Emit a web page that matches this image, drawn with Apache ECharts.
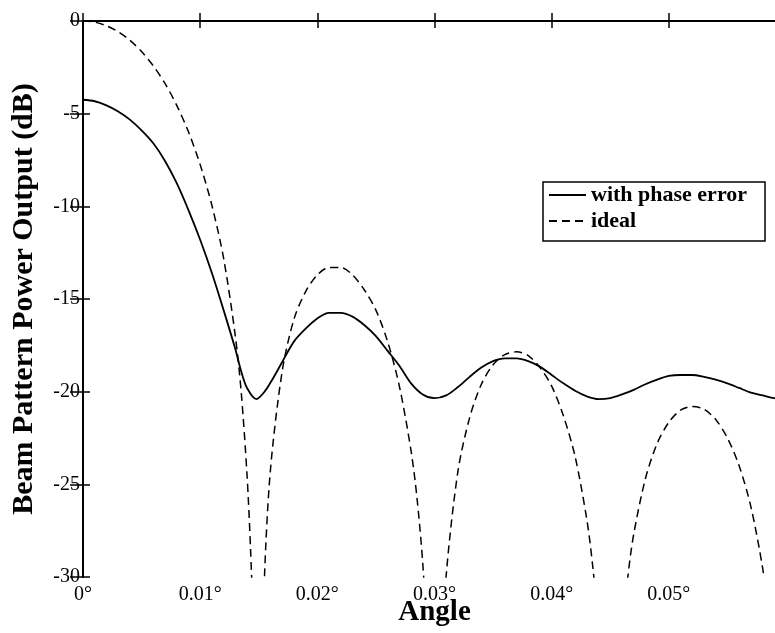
<!DOCTYPE html>
<html>
<head>
<meta charset="utf-8">
<script src="https://cdn.jsdelivr.net/npm/echarts@6/dist/echarts.min.js"></script>
<style>
  html, body { margin: 0; padding: 0; background: #fff; }
  #beamchart { width: 775px; height: 633px; }
</style>
</head>
<body>
<div id="beamchart"></div>
<script>
// values (angle in degrees, power in dB)
let errorAngle = [0, 0.001, 0.002, 0.003, 0.004, 0.005, 0.006, 0.007, 0.008, 0.009, 0.010,
  0.011, 0.012, 0.013, 0.0135, 0.014, 0.0148, 0.0155, 0.0162, 0.017, 0.018, 0.019, 0.020,
  0.021, 0.022, 0.023, 0.024, 0.025, 0.026, 0.027, 0.028, 0.029, 0.030, 0.031, 0.032,
  0.033, 0.034, 0.035, 0.036, 0.037, 0.038, 0.039, 0.040, 0.041, 0.042, 0.043, 0.044,
  0.045, 0.046, 0.047, 0.048, 0.049, 0.050, 0.051, 0.052, 0.053, 0.054, 0.055, 0.056,
  0.057, 0.058, 0.059, 0.060];
let errorDb = [-4.25, -4.33, -4.55, -4.88, -5.32, -5.9, -6.6, -7.55, -8.75, -10.2, -11.8,
  -13.6, -15.6, -17.7, -18.9, -19.8, -20.4, -20.0, -19.3, -18.4, -17.3, -16.6, -16.05,
  -15.75, -15.75, -15.95, -16.4, -17.0, -17.8, -18.6, -19.55, -20.15, -20.35, -20.2, -19.75,
  -19.2, -18.7, -18.35, -18.2, -18.2, -18.35, -18.65, -19.1, -19.55, -19.95, -20.25, -20.4,
  -20.35, -20.15, -19.9, -19.6, -19.35, -19.15, -19.1, -19.1, -19.2, -19.35, -19.55, -19.8,
  -20.05, -20.2, -20.35, -20.45];

let idealAngle = [0, 0.001, 0.002, 0.003, 0.004, 0.005, 0.006, 0.007, 0.008, 0.009, 0.010,
  0.011, 0.012, 0.013, 0.0135, 0.014, 0.0143, 0.0146, 0.0149, 0.0152, 0.0155, 0.016,
  0.017, 0.018, 0.019, 0.020, 0.021, 0.022, 0.023, 0.024, 0.025, 0.026, 0.027, 0.028,
  0.0285, 0.029, 0.0295, 0.030, 0.0305, 0.031, 0.032, 0.033, 0.034, 0.035, 0.036, 0.037,
  0.038, 0.039, 0.040, 0.041, 0.042, 0.043, 0.0435, 0.044, 0.045, 0.0455, 0.046, 0.0465,
  0.047, 0.048, 0.049, 0.050, 0.051, 0.052, 0.053, 0.054, 0.055, 0.056, 0.057, 0.058,
  0.0585, 0.059, 0.060];
let idealDb = [0, -0.06, -0.26, -0.58, -1.04, -1.65, -2.42, -3.37, -4.55, -5.98, -7.75,
  -9.95, -12.8, -17.0, -20.0, -24.5, -28.5, -34, -45, -37, -29.8, -24.2,
  -18.9, -16.1, -14.6, -13.7, -13.3, -13.3, -13.7, -14.5, -15.6, -17.3, -19.7, -23.2,
  -25.7, -29.3, -35, -50, -35.7, -29.9, -24.3, -21.4, -19.6, -18.55, -18.0, -17.85,
  -18.05, -18.7, -19.7, -21.3, -23.5, -26.9, -29.4, -32.9, -50, -39, -33.3, -30.0,
  -27.7, -24.7, -22.8, -21.65, -21.0, -20.8, -20.95, -21.5, -22.5, -24.0, -26.2, -29.5,
  -32, -36, -50];

let seriesNames = ["with phase error", "ideal"];
let yTicks = { min: -30, max: 0, step: 5 };
let xTicks = { min: 0, max: 0.06, step: 0.01 };

let serif = '"Liberation Serif", "Times New Roman", serif';

let pairs = function (xs, ys) {
  let out = [];
  for (let i = 0; i < xs.length; i++) {
    out.push([xs[i], ys[i]]);
  }
  return out;
};

let degLabel = function (v) {
  if (v >= xTicks.max - 1e-9) return "";
  if (v === 0) return "0°";
  return +v.toFixed(2) + "°";
};

var myChart = echarts.init(document.getElementById("beamchart"), null, { renderer: "canvas" });

var option = {
  backgroundColor: "#fff",
  animation: false,
  grid: { left: 83, top: 21, bottom: 56, right: -11, outerBoundsMode: "none", containLabel: false },
  legend: {
    orient: "vertical",
    left: 543,
    top: 182,
    padding: [2, 18, 9, 5],
    itemGap: 4,
    itemWidth: 37,
    itemHeight: 24,
    borderColor: "#000",
    borderWidth: 1.5,
    backgroundColor: "#fff",
    itemStyle: { opacity: 0 },
    textStyle: { fontFamily: serif, fontWeight: "bold", fontSize: 22, color: "#000" },
    data: seriesNames,
  },
  xAxis: [
    {
      type: "value",
      min: xTicks.min,
      max: xTicks.max,
      interval: xTicks.step,
      name: "Angle",
      nameLocation: "middle",
      nameGap: 21,
      nameMoveOverlap: false,
      nameTextStyle: { fontFamily: serif, fontWeight: "bold", fontSize: 29, color: "#000" },
      axisLine: { lineStyle: { color: "#000", width: 2 } },
      axisTick: { inside: true, length: 8, lineStyle: { color: "#000", width: 1.5 } },
      axisLabel: { margin: 8, fontFamily: serif, fontSize: 20, color: "#000", formatter: degLabel },
      splitLine: { show: false },
    },
    {
      type: "value",
      position: "top",
      min: xTicks.min,
      max: xTicks.max,
      interval: xTicks.step,
      axisLine: { lineStyle: { color: "#000", width: 2 } },
      axisTick: { inside: true, length: 7, lineStyle: { color: "#000", width: 1.5 } },
      axisLabel: { show: false },
      splitLine: { show: false },
    },
  ],
  yAxis: [
    {
      type: "value",
      min: yTicks.min,
      max: yTicks.max,
      interval: yTicks.step,
      name: "Beam Pattern Power Output (dB)",
      nameLocation: "middle",
      nameGap: 44,
      nameMoveOverlap: false,
      nameTextStyle: { fontFamily: serif, fontWeight: "bold", fontSize: 30, color: "#000" },
      axisLine: { lineStyle: { color: "#000", width: 2 } },
      axisTick: { inside: true, length: 7, lineStyle: { color: "#000", width: 1.5 } },
      axisLabel: { margin: 3, fontFamily: serif, fontSize: 20, color: "#000" },
      splitLine: { show: false },
    },
    {
      type: "value",
      position: "right",
      min: yTicks.min,
      max: yTicks.max,
      interval: yTicks.step,
      axisLine: { lineStyle: { color: "#000", width: 2 } },
      axisTick: { inside: true, length: 13, lineStyle: { color: "#000", width: 1.5 } },
      axisLabel: { show: false },
      splitLine: { show: false },
    },
  ],
  series: [
    {
      name: seriesNames[0],
      type: "line",
      smooth: 0.3,
      symbol: "none",
      clip: true,
      lineStyle: { color: "#000", width: 1.8, type: "solid" },
      itemStyle: { color: "#000" },
      data: pairs(errorAngle, errorDb),
    },
    {
      name: seriesNames[1],
      type: "line",
      smooth: 0.3,
      symbol: "none",
      clip: true,
      lineStyle: { color: "#000", width: 1.5, type: [8, 5] },
      itemStyle: { color: "#000" },
      data: pairs(idealAngle, idealDb),
    },
  ],
};

option && myChart.setOption(option);
</script>
</body>
</html>
